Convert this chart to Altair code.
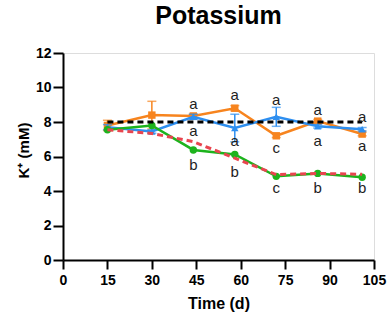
import altair as alt
import pandas as pd

days = [15, 30, 44, 58, 72, 86, 101]
orange = [7.8, 8.4, 8.35, 8.8, 7.2, 8.05, 7.3]
orange_err = [0.3, 0.8, 0.1, 0.15, 0.1, 0.1, 0.1]
blue = [7.7, 7.45, 8.3, 7.65, 8.3, 7.75, 7.58]
blue_err = [0.15, 0.1, 0.15, 0.8, 0.55, 0.1, 0.1]
green = [7.55, 7.8, 6.38, 6.12, 4.85, 5.02, 4.8]
red = [7.55, 7.34, 6.86, 5.9, 4.95, 5.02, 4.97]
black = [8.0, 8.0, 8.0, 8.0, 8.0, 8.0, 8.0]

label_day = [44, 44, 44, 58, 58, 58, 72, 72, 72, 86, 86, 86, 101, 101, 101]
label_y = [9.04, 7.48, 5.5, 9.57, 6.9, 5.1, 9.28, 6.49, 4.17, 8.7, 6.9, 4.17, 8.29, 6.6, 4.17]
label_text = ["a", "a", "b", "a", "a", "b", "a", "c", "c", "a", "a", "b", "a", "a", "b"]

x_ticks = [0, 15, 30, 45, 60, 75, 90, 105]
y_ticks = [0, 2, 4, 6, 8, 10, 12]

FONT = "Liberation Sans"
C_OR = "#f7841e"
C_BL = "#2e8ff0"
C_GR = "#1db31d"
C_RD = "#e8454f"

def df(vals, err=None):
    d = pd.DataFrame({"day": days, "v": vals})
    if err is not None:
        d["lo"] = [a - b for a, b in zip(vals, err)]
        d["hi"] = [a + b for a, b in zip(vals, err)]
    return d

xs = alt.Scale(domain=[0, 105], nice=False, zero=False)
ys = alt.Scale(domain=[0, 12], nice=False)

xaxis = alt.Axis(values=x_ticks, grid=False, domainColor="black", domainWidth=2,
                 tickColor="black", tickWidth=2, tickSize=9, labelFont=FONT,
                 labelFontSize=14, labelFontWeight="bold", labelColor="black",
                 labelPadding=4, titleFont=FONT, titleFontSize=16,
                 titleFontWeight="bold", titleColor="black", titlePadding=8,
                 labelFlush=False, labelOverlap=False)
yaxis = alt.Axis(values=y_ticks, grid=False, domainColor="black", domainWidth=2,
                 tickColor="black", tickWidth=2, tickSize=10, labelFont=FONT,
                 labelFontSize=14, labelFontWeight="bold", labelColor="black",
                 labelPadding=2, titleFont=FONT, titleFontSize=15,
                 titleFontWeight="bold", titleColor="black",
                 titleX=-40, titleY=97, titleBaseline="middle", labelFlush=False,
                 labelOverlap=False)

def xc():
    return alt.X("day:Q", scale=xs, axis=xaxis, title="Time (d)")

def yc(f):
    return alt.Y(f + ":Q", scale=ys, axis=yaxis, title="K⁺ (mM)")

def series(vals, color, shape=None, err=None, dash=None):
    d = df(vals, err)
    base = alt.Chart(d)
    layers = []
    if err is not None:
        layers.append(base.mark_rule(color=color, strokeWidth=1.5).encode(
            x=xc(), y=yc("lo"), y2="hi:Q"))
        layers.append(base.mark_tick(color=color, orient="horizontal", size=9, thickness=1.5).encode(
            x=xc(), y=yc("hi")))
        layers.append(base.mark_tick(color=color, orient="horizontal", size=9, thickness=1.5).encode(
            x=xc(), y=yc("lo")))
    lk = dict(color=color, strokeWidth=2.5)
    if dash is not None:
        lk["strokeDash"] = dash
        lk["strokeWidth"] = 3
    layers.append(base.mark_line(**lk).encode(x=xc(), y=yc("v")))
    if shape is not None:
        layers.append(base.mark_point(shape=shape, filled=True, opacity=1, size=55, color=color).encode(
            x=xc(), y=yc("v")))
    return layers

layers = []
layers += series(orange, C_OR, "square", orange_err)
layers += series(blue, C_BL, "triangle-up", blue_err)
layers += series(green, C_GR, "circle")
layers += series(red, C_RD, dash=[6, 4])
layers += series(black, "black", dash=[6, 4])

lab = pd.DataFrame({"day": label_day, "v": label_y, "t": label_text})
layers.append(alt.Chart(lab).mark_text(font=FONT, fontSize=15, color="#1e1e1e", baseline="middle").encode(
    x=xc(), y=yc("v"), text="t:N"))

chart = alt.layer(*layers).properties(
    width=311, height=207,
    autosize=alt.AutoSizeParams(type="none"),
    padding={"left": 63, "top": 53, "right": 14, "bottom": 60},
    title=alt.TitleParams("Potassium", font=FONT, fontSize=25, fontWeight="bold",
                          color="black", anchor="middle", offset=17),
).configure_view(stroke=None).configure(background="white")

chart.save("out.html", embed_options={"renderer": "svg", "actions": False})
